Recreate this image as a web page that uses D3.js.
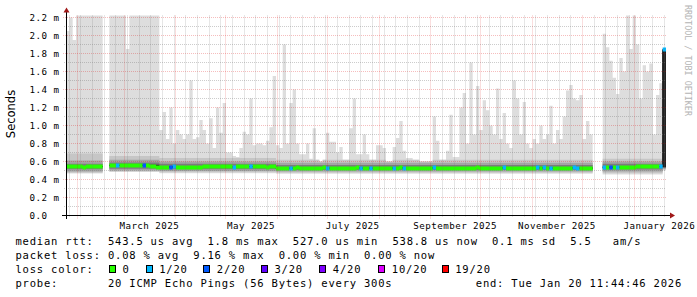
<!DOCTYPE html>
<html>
<head>
<meta charset="utf-8">
<script src="https://cdn.jsdelivr.net/npm/d3@7"></script>
<style>
  body { margin: 0; background: #fff; }
  svg { display: block; }
  text { font-family: "DejaVu Sans Mono", monospace; fill: #000; }
</style>
</head>
<body>
<div class="chart"></div>
<script>
var width = 697;
var height = 297;

// time range of the graph (360 days ending at "end")
var startTime = Date.UTC(2025, 0, 25, 11, 44, 46);
var endTime = Date.UTC(2026, 0, 20, 11, 44, 46);
var stepDays = 2;

// max ping per 2-day step (ms), null = no data
var pingMax = [
  2.05, 2.2, 1.95, 2.25, 2.25, 2.25, 2.25, 2.25, 2.25, 2.25, 2.25, null, null, 2.25, 2.25,
  2.25, 2.25, 2.25, 1.85, 2.25, 2.25, 2.25, 2.25, 2.25, 2.25, 2.25, 2.25, 2.25, 0.95, 1.15,
  0.85, 1.2, 0.8, 0.95, 0.9, 0.85, 0.9, 1.5, 0.85, 0.87, 1.06, 0.95, 0.8, 1.08, 0.75,
  1.2, 0.92, 1.25, 0.7, 0.7, 0.66, 0.65, 0.75, 0.93, 0.9, 1.3, 0.78, 0.8, 0.8, 0.78,
  0.83, 0.98, 1.55, 0.78, 0.75, 1.9, 0.8, 1.25, 1.4, 0.8, 0.68, 0.68, 0.8, 0.63, 0.97,
  0.62, 0.6, 0.62, 0.92, 0.82, 0.82, 0.7, 0.76, 0.62, 0.62, 0.97, 1.3, 0.68, 0.68, 0.9,
  0.68, 0.62, 0.62, 0.78, 0.78, 0.75, 0.6, 0.6, 0.76, 0.86, 1.05, 0.72, 0.64, 0.64, 0.62,
  0.62, 0.6, 0.6, 0.6, 0.6, 1.1, 0.83, 0.62, 0.62, 0.72, 1.12, 0.65, 0.65, 1.2, 1.36,
  0.8, 1.7, 0.9, 1.44, 0.95, 1.28, 1.17, 1.0, 0.9, 1.41, 0.85, 1.14, 0.8, 0.75, 1.5,
  1.3, 0.9, 1.26, 0.8, 0.75, 0.85, 0.8, 1.0, 0.85, 0.9, 1.22, 0.8, 0.95, 0.85, 1.1,
  1.39, 1.45, 1.3, 1.28, 1.34, 0.85, 1.05, 0.9, null, null, null, 2.02, 1.87, 1.72, 1.53,
  1.35, 1.75, 1.6, 2.25, 1.85, 2.25, 1.9, 1.3, 1.67, 1.6, 1.69, 0.9, 1.34, 1.47, 1.86
];

// median rtt per 2-day step (ms)
var pingMedian = [
  0.545, 0.545, 0.548, 0.545, 0.545, 0.543, 0.545, 0.547, 0.545, 0.545, 0.545, null, null, 0.56, 0.56,
  0.562, 0.56, 0.56, 0.558, 0.56, 0.56, 0.56, 0.562, 0.56, 0.558, 0.55, 0.545, 0.54, 0.54, 0.54,
  0.535, 0.54, 0.545, 0.54, 0.54, 0.538, 0.54, 0.54, 0.54, 0.542, 0.54, 0.545, 0.545, 0.548, 0.545,
  0.545, 0.548, 0.545, 0.545, 0.545, 0.543, 0.545, 0.545, 0.547, 0.545, 0.545, 0.545, 0.545, 0.545, 0.545,
  0.543, 0.545, 0.545, 0.532, 0.532, 0.528, 0.53, 0.532, 0.532, 0.535, 0.532, 0.53, 0.532, 0.532, 0.532,
  0.53, 0.532, 0.535, 0.532, 0.532, 0.53, 0.532, 0.532, 0.532, 0.528, 0.532, 0.532, 0.535, 0.532, 0.532,
  0.532, 0.53, 0.532, 0.532, 0.532, 0.528, 0.527, 0.53, 0.532, 0.532, 0.535, 0.532, 0.532, 0.532, 0.532,
  0.53, 0.532, 0.532, 0.532, 0.532, 0.535, 0.532, 0.532, 0.53, 0.532, 0.532, 0.532, 0.532, 0.532, 0.53,
  0.532, 0.532, 0.532, 0.535, 0.532, 0.532, 0.532, 0.53, 0.532, 0.532, 0.532, 0.535, 0.532, 0.532, 0.532,
  0.53, 0.532, 0.532, 0.532, 0.528, 0.532, 0.535, 0.532, 0.538, 0.532, 0.532, 0.532, 0.53, 0.532, 0.532,
  0.532, 0.532, 0.535, 0.532, 0.532, 0.532, 0.532, 0.532, null, null, null, 0.54, 0.54, 0.542, 0.54,
  0.54, 0.54, 0.538, 0.54, 0.54, 0.542, 0.545, 0.545, 0.548, 0.55, 0.55, 0.55, 0.552, 0.55, 1.85
];

// steps with lost pings: [step index, pings lost of 20]
var lossSteps = [
  [15, 1], [23, 2], [31, 2], [32, 1], [50, 1], [55, 1], [67, 1], [78, 1], [88, 1], [91, 1],
  [98, 1], [101, 1], [110, 1], [131, 1], [141, 1], [143, 1], [145, 1], [152, 1], [153, 1],
  [161, 1], [163, 2], [165, 1], [178, 1], [179, 1]
];

// inner smoke, given per stretch of steps (ms)
var bandStart = [0, 13, 28, 63, 161, 179];
var bandMin = [0.467, 0.485, 0.47, 0.465, 0.455, 0.5];
var bandQ10 = [0.475, 0.49, 0.48, 0.475, 0.47, 0.51];
var bandQ25 = [0.49, 0.5, 0.495, 0.49, 0.49, 0.52];
var bandQ40 = [0.515, 0.52, 0.515, 0.505, 0.51, 0.53];
var bandQ45 = [0.535, 0.55, 0.535, 0.525, 0.535, 0.535];
var bandQ55 = [0.55, 0.565, 0.55, 0.535, 0.545, 1.84];
var bandQ60 = [0.575, 0.59, 0.575, 0.56, 0.575, 1.84];
var bandQ75 = [0.61, 0.62, 0.6, 0.585, 0.6, 1.84];
var bandQ90 = [0.69, 0.66, 0.64, 0.62, 0.63, 1.84];

var lossLabels = ["0", "1/20", "2/20", "3/20", "4/20", "10/20", "19/20"];
var lossLimits = [0, 1, 2, 3, 4, 10, 19];
var lossColors = ["#26ff00", "#00b8ff", "#0059ff", "#5e00ff", "#7e00ff", "#dd00ff", "#ff0000"];

var yTicks = [0, 0.2, 0.4, 0.6, 0.8, 1.0, 1.2, 1.4, 1.6, 1.8, 2.0, 2.2];

var legendRows = [
  "median rtt:  543.5 us avg  1.8 ms max  527.0 us min  538.8 us now  0.1 ms sd  5.5   am/s",
  "packet loss: 0.08 % avg  9.16 % max  0.00 % min  0.00 % now",
  "loss color:",
  "probe:       20 ICMP Echo Pings (56 Bytes) every 300s"
];
var endLabel = "end: Tue Jan 20 11:44:46 2026";

var svg = d3
  .select(".chart")
  .append("svg")
  .attr("width", width)
  .attr("height", height);

var x = d3.scaleUtc().domain([startTime, endTime]).range([66, 666]);
var y = d3.scaleLinear().domain([0, 2.2222]).range([215.5, 15.5]);

svg
  .append("clipPath")
  .attr("id", "plot-clip")
  .append("rect")
  .attr("x", 66)
  .attr("y", 15.5)
  .attr("width", 600)
  .attr("height", 200);

// build the samples, two points per step so areas are drawn as steps
var lossMap = new Map(lossSteps);
var stepMs = stepDays * 864e5;
var points = [];
pingMax.forEach(function (v, i) {
  var s = d3.bisectRight(bandStart, i) - 1;
  var d = {
    max: v,
    median: pingMedian[i],
    loss: lossMap.get(i) || 0,
    min: bandMin[s], q10: bandQ10[s], q25: bandQ25[s], q40: bandQ40[s], q45: bandQ45[s],
    q55: bandQ55[s], q60: bandQ60[s], q75: bandQ75[s], q90: bandQ90[s]
  };
  points.push({ t: startTime + i * stepMs, d: d });
  points.push({ t: Math.min(startTime + (i + 1) * stepMs, endTime), d: d });
});

var plot = svg.append("g").attr("clip-path", "url(#plot-clip)");

// smoke, outer pings lightest
var layers = [
  ["min", "max", "#dddddd"],
  ["q10", "q90", "#c6c6c6"],
  ["q25", "q75", "#a4a4a4"],
  ["q40", "q60", "#7c7c7c"],
  ["q45", "q55", "#222222"]
];
layers.forEach(function (l) {
  var area = d3
    .area()
    .defined((p) => p.d.max != null)
    .x((p) => x(p.t))
    .y0((p) => y(p.d[l[0]]))
    .y1((p) => y(Math.min(p.d[l[1]], p.d.max)));
  plot.append("path").datum(points).attr("d", area).attr("fill", l[2]);
});

// grid
var minorColor = "rgba(120,120,120,0.38)";
var majorColor = "rgba(220,0,0,0.26)";
var grid = svg.append("g").attr("class", "grid");
d3.range(0, 2.25, 0.1).forEach(function (v, k) {
  var major = k % 2 === 0;
  var py = Math.round(y(v) - 0.5) + 0.5;
  grid
    .append("line")
    .attr("x1", major ? 63 : 64)
    .attr("x2", 666)
    .attr("y1", py)
    .attr("y2", py)
    .attr("stroke", major ? majorColor : minorColor)
    .attr("stroke-dasharray", "1,1");
});
var monthStarts = d3.utcMonth.range(new Date(startTime), new Date(endTime));
d3.utcMonday
  .range(new Date(startTime), new Date(endTime))
  .filter((t) => t.getUTCDate() !== 1)
  .forEach(function (t) {
    var px = Math.round(x(t)) + 0.5;
    grid
      .append("line")
      .attr("x1", px).attr("x2", px)
      .attr("y1", 15.5).attr("y2", 217.5)
      .attr("stroke", minorColor)
      .attr("stroke-dasharray", "1,1");
  });
monthStarts.forEach(function (t) {
  var px = Math.round(x(t)) + 0.5;
  grid
    .append("line")
    .attr("x1", px).attr("x2", px)
    .attr("y1", 15.5).attr("y2", 218.5)
    .attr("stroke", majorColor)
    .attr("stroke-dasharray", "1,1");
});

// median line and loss coloured band
var medianLine = d3
  .line()
  .defined((p) => p.d.median != null)
  .x((p) => x(p.t))
  .y((p) => Math.round(y(p.d.median)) + 0.5);
plot
  .append("path")
  .datum(points)
  .attr("d", medianLine)
  .attr("fill", "none")
  .attr("stroke", "#202020")
  .attr("stroke-width", 1);

function lossClass(n) {
  return d3.bisectRight(lossLimits, n) - 1;
}
lossColors.forEach(function (c, k) {
  var band = d3
    .area()
    .defined((p) => p.d.median != null && lossClass(p.d.loss) === k)
    .x((p) => x(p.t))
    .y0((p) => Math.round(y(p.d.median)) + 2.5)
    .y1((p) => Math.round(y(p.d.median)) - 1.5);
  plot.append("path").datum(points).attr("d", band).attr("fill", c);
});

// axes
var axes = svg.append("g").attr("class", "axes");
axes.append("line")
  .attr("x1", 62).attr("x2", 670).attr("y1", 215.5).attr("y2", 215.5)
  .attr("stroke", "#000");
axes.append("line")
  .attr("x1", 66.5).attr("x2", 66.5).attr("y1", 219).attr("y2", 12)
  .attr("stroke", "#000");
axes.append("path").attr("d", "M670,212.5L675,215.5L670,218.5Z").attr("fill", "#a01818");
axes.append("path").attr("d", "M63.5,12.5L66.5,7.5L69.5,12.5Z").attr("fill", "#a01818");

// y labels
svg
  .append("g")
  .selectAll("text")
  .data(yTicks)
  .enter()
  .append("text")
  .attr("x", 29.5)
  .attr("y", (d) => y(d) + 3.5)
  .attr("font-size", "9.2px")
  .attr("letter-spacing", "0.45px")
  .style("white-space", "pre")
  .text((d) => d3.format(".1f")(d) + (d === 0 ? "" : " m"));

// x labels, every second month centred on the month
var labelMonths = monthStarts.filter((t) => t.getUTCMonth() % 2 === 0);
svg
  .append("g")
  .selectAll("text")
  .data(labelMonths)
  .enter()
  .append("text")
  .attr("x", (t) => x(new Date((+t + +d3.utcMonth.offset(t, 1)) / 2)))
  .attr("y", 228.5)
  .attr("text-anchor", "middle")
  .attr("font-size", "9.2px")
  .attr("letter-spacing", "0.45px")
  .text(d3.utcFormat("%B %Y"));

// axis title and watermark
svg
  .append("text")
  .attr("transform", "translate(15,114) rotate(-90)")
  .attr("text-anchor", "middle")
  .style("font-family", "'DejaVu Sans', sans-serif")
  .attr("font-size", "11.5px")
  .text("Seconds");

svg
  .append("text")
  .attr("transform", "translate(685,5) rotate(90)")
  .attr("font-size", "8.4px")
  .style("fill", "#b4b4b4")
  .text("RRDTOOL / TOBI OETIKER");

// legend
var legend = svg.append("g").attr("class", "legend");
var rowY = [245, 259, 273, 286.7];
legendRows.forEach(function (r, k) {
  legend
    .append("text")
    .attr("x", 15.5)
    .attr("y", rowY[k])
    .attr("font-size", "10.5px")
    .attr("letter-spacing", "0.79px")
    .style("white-space", "pre")
    .text(r);
});
legend
  .append("text")
  .attr("x", 682)
  .attr("y", rowY[3])
  .attr("text-anchor", "end")
  .attr("font-size", "10.5px")
  .attr("letter-spacing", "0.79px")
  .style("white-space", "pre")
  .text(endLabel);

var boxX = [109, 145.7, 203.3, 261, 319.3, 378.3, 441.7];
lossLabels.forEach(function (lab, k) {
  legend
    .append("rect")
    .attr("x", Math.round(boxX[k]) + 0.5)
    .attr("y", 265.5)
    .attr("width", 6)
    .attr("height", 7)
    .attr("fill", lossColors[k])
    .attr("stroke", "#000");
  legend
    .append("text")
    .attr("x", boxX[k] + 13.5)
    .attr("y", rowY[2])
    .attr("font-size", "10.5px")
    .attr("letter-spacing", "0.79px")
    .text(lab);
});
</script>
</body>
</html>
